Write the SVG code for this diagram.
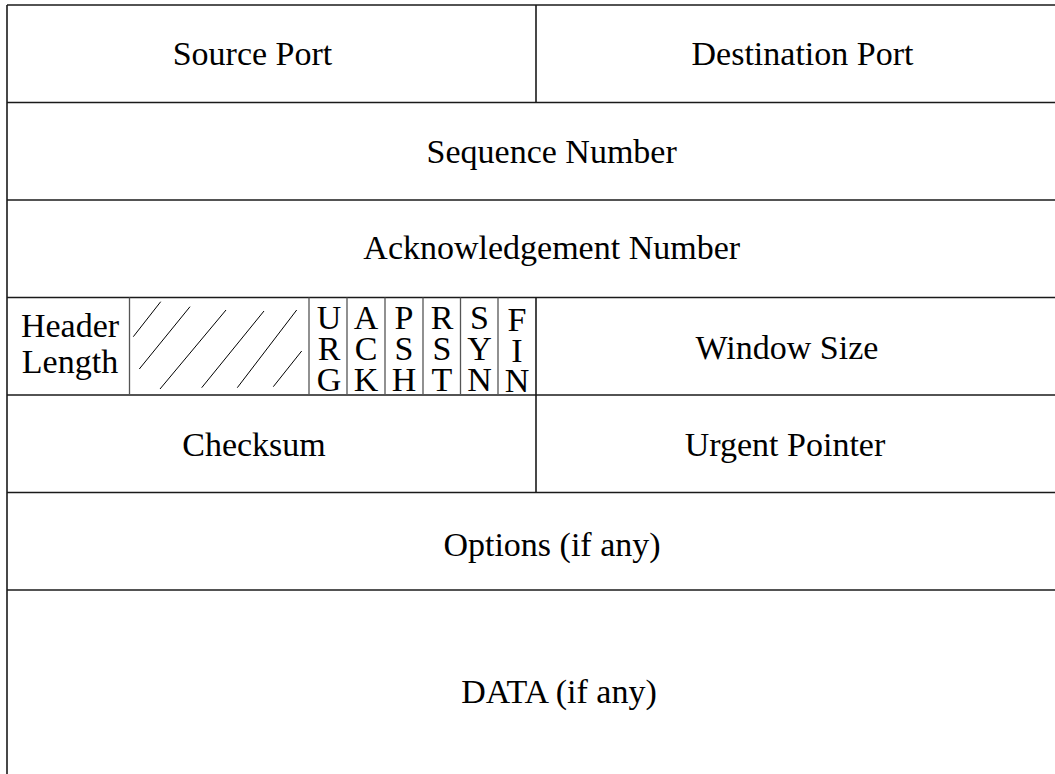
<svg xmlns="http://www.w3.org/2000/svg" width="1055" height="774" viewBox="0 0 1055 774">
  <style>
    .t { font-family: "Liberation Serif", "Times New Roman", serif; font-size: 34px; fill: #000; text-anchor: middle; }
    .rule { stroke: #1a1a1a; stroke-width: 1.6; fill: none; }
    .thin { stroke: #555; stroke-width: 1.3; fill: none; }
    .hatch { stroke: #000; stroke-width: 1; fill: none; }
  </style>
  <rect x="0" y="0" width="1055" height="774" fill="#fff"/>

  <g id="grid">
    <line class="rule" x1="7" y1="5" x2="1055" y2="5"/>
    <line class="rule" x1="7" y1="102.5" x2="1055" y2="102.5"/>
    <line class="rule" x1="7" y1="200" x2="1055" y2="200"/>
    <line class="rule" x1="7" y1="297.5" x2="1055" y2="297.5"/>
    <line class="rule" x1="7" y1="395" x2="1055" y2="395"/>
    <line class="rule" x1="7" y1="492.5" x2="1055" y2="492.5"/>
    <line class="rule" x1="7" y1="590" x2="1055" y2="590"/>
    <line class="rule" x1="7" y1="5" x2="7" y2="774"/>
    <line class="rule" x1="536" y1="5" x2="536" y2="102.5"/>
    <line class="rule" x1="536" y1="297.5" x2="536" y2="492.5"/>
    <line class="thin" x1="129.5" y1="297.5" x2="129.5" y2="395"/>
    <line class="thin" x1="309" y1="297.5" x2="309" y2="395"/>
    <line class="thin" x1="347" y1="297.5" x2="347" y2="395"/>
    <line class="thin" x1="385" y1="297.5" x2="385" y2="395"/>
    <line class="thin" x1="423" y1="297.5" x2="423" y2="395"/>
    <line class="thin" x1="460.5" y1="297.5" x2="460.5" y2="395"/>
    <line class="thin" x1="498" y1="297.5" x2="498" y2="395"/>
  </g>

  <g id="source-port"><text class="t" x="252.5" y="64.5">Source Port</text></g>
  <g id="destination-port"><text class="t" x="802.5" y="64.5">Destination Port</text></g>
  <g id="sequence-number"><text class="t" x="551.7" y="163">Sequence Number</text></g>
  <g id="ack-number"><text class="t" x="551.7" y="259">Acknowledgement Number</text></g>
  <g id="header-length">
    <text class="t" x="70" y="336.5">Header<tspan x="70" dy="36.5">Length</tspan></text>
  </g>
  <g id="reserved">
    <line class="hatch" x1="133.3" y1="336.7" x2="160.7" y2="301.7"/>
    <line class="hatch" x1="139.3" y1="369" x2="190" y2="306.7"/>
    <line class="hatch" x1="160" y1="389" x2="226" y2="310"/>
    <line class="hatch" x1="201.7" y1="387.7" x2="264" y2="311"/>
    <line class="hatch" x1="237.3" y1="387.7" x2="296.7" y2="310"/>
    <line class="hatch" x1="273.3" y1="386.7" x2="301.7" y2="351"/>
  </g>
  <g id="flag-urg"><text class="t" x="329" y="328.5">U<tspan x="329" dy="31">R</tspan><tspan x="329" dy="31">G</tspan></text></g>
  <g id="flag-ack"><text class="t" x="366" y="328.5">A<tspan x="366" dy="31">C</tspan><tspan x="366" dy="31">K</tspan></text></g>
  <g id="flag-psh"><text class="t" x="404" y="328.5">P<tspan x="404" dy="31">S</tspan><tspan x="404" dy="31">H</tspan></text></g>
  <g id="flag-rst"><text class="t" x="442" y="328.5">R<tspan x="442" dy="31">S</tspan><tspan x="442" dy="31">T</tspan></text></g>
  <g id="flag-syn"><text class="t" x="479.5" y="328.5">S<tspan x="479.5" dy="31">Y</tspan><tspan x="479.5" dy="31">N</tspan></text></g>
  <g id="flag-fin"><text class="t" x="517" y="331">F<tspan x="517" dy="30.5">I</tspan><tspan x="517" dy="30.5">N</tspan></text></g>
  <g id="window-size"><text class="t" x="787" y="358.5">Window Size</text></g>
  <g id="checksum"><text class="t" x="254" y="455.5">Checksum</text></g>
  <g id="urgent-pointer"><text class="t" x="785" y="455.5">Urgent Pointer</text></g>
  <g id="options"><text class="t" x="552" y="555.5">Options (if any)</text></g>
  <g id="data"><text class="t" x="559" y="702.5">DATA (if any)</text></g>
</svg>
